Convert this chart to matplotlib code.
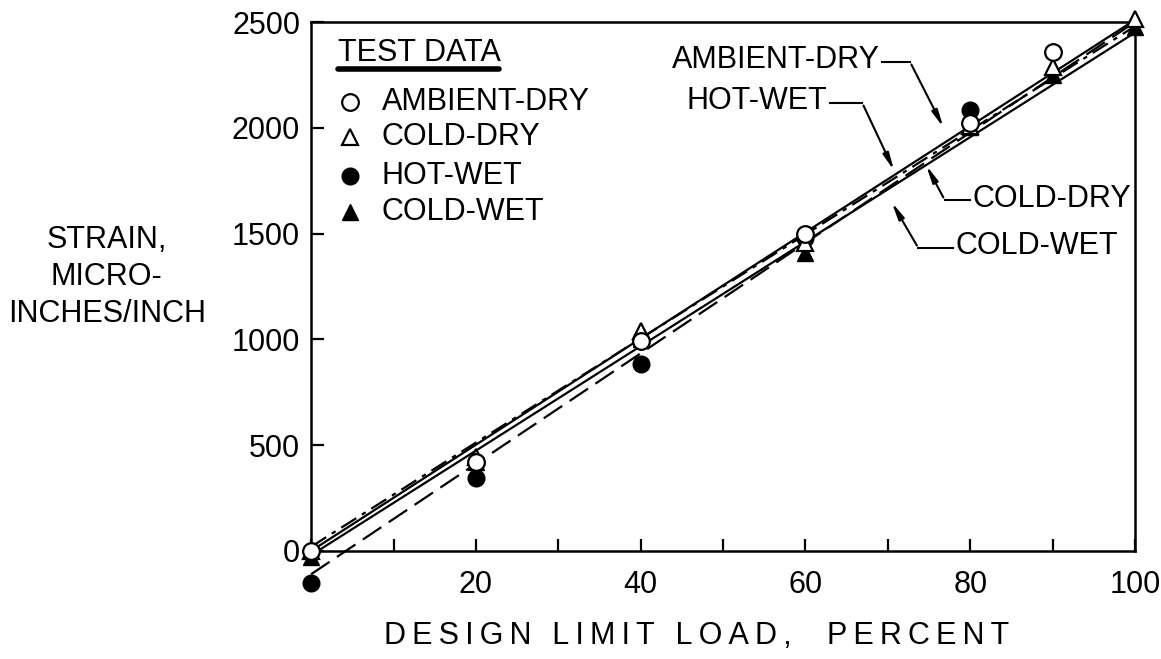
import matplotlib
matplotlib.use("Agg")
import matplotlib.pyplot as plt

FONT = ['Liberation Sans Narrow', 'Liberation Sans', 'DejaVu Sans']
plt.rcParams['font.family'] = FONT

# ---- data ----
amb_x = [0, 20, 40, 60, 80, 90]
amb_y = [0, 420, 990, 1500, 2023, 2358]
cd_x = [0, 20, 40, 60, 80, 90, 100]
cd_y = [0, 445, 1040, 1455, 2010, 2287, 2516]
hw_x = [0, 20, 40, 60, 80]
hw_y = [-150, 345, 885, 1480, 2084]
cw_x = [0, 20, 40, 60, 80, 90, 100]
cw_y = [-30, 420, 1000, 1410, 2004, 2250, 2476]

fit_x = [0, 100]
fit_amb = [0, 2510]
fit_cd = [20, 2480]
fit_hw = [-110, 2500]
fit_cw = [-20, 2450]

x_ticks = [0, 20, 40, 60, 80, 100]
x_tick_labels = ['', '20', '40', '60', '80', '100']
x_minor = [10, 30, 50, 70, 90]
y_ticks = [0, 500, 1000, 1500, 2000, 2500]

fig = plt.figure(figsize=(11.61, 6.59), dpi=100)
ax = fig.add_axes([0.268, 0.164, 0.7096, 0.8026])
ax.set_xlim(0, 100)
ax.set_ylim(0, 2500)

lw = 1.6
ax.plot(fit_x, fit_amb, color='black', lw=lw, ls='-', clip_on=False)
ax.plot(fit_x, fit_cd, color='black', lw=lw, ls=(0, (8, 3, 2, 3)), clip_on=False)
ax.plot(fit_x, fit_hw, color='black', lw=lw, ls=(0, (10, 4)), clip_on=False)
ax.plot(fit_x, fit_cw, color='black', lw=lw, ls='-', clip_on=False)

ms = 12
ax.plot(cw_x, cw_y, ls='none', marker='^', ms=ms, mfc='black', mec='black', clip_on=False, zorder=5)
ax.plot(hw_x, hw_y, ls='none', marker='o', ms=ms, mfc='black', mec='black', clip_on=False, zorder=5)
ax.plot(cd_x, cd_y, ls='none', marker='^', ms=ms, mfc='white', mec='black', mew=1.6, clip_on=False, zorder=6)
ax.plot(amb_x, amb_y, ls='none', marker='o', ms=ms, mfc='white', mec='black', mew=1.6, clip_on=False, zorder=7)

for s in ax.spines.values():
    s.set_linewidth(1.8)

ax.set_xticks(x_ticks)
ax.set_xticklabels(x_tick_labels)
ax.set_xticks(x_minor, minor=True)
ax.set_yticks(y_ticks)
ax.tick_params(axis='both', which='both', direction='in', length=9, width=1.6, labelsize=22)
ax.tick_params(axis='x', which='both', pad=14)
ax.tick_params(axis='y', pad=8)

# legend
lx_m, lx_t = 4.7, 8.6
ax.text(3.3, 2355, 'TEST DATA', fontsize=22, va='center', ha='left')
ax.plot([3.3, 22.8], [2280, 2280], color='black', lw=4, solid_capstyle='round')
rows = [2120, 1955, 1770, 1600]
names = ['AMBIENT-DRY', 'COLD-DRY', 'HOT-WET', 'COLD-WET']
styles = [dict(marker='o', mfc='white', mew=1.6), dict(marker='^', mfc='white', mew=1.6),
          dict(marker='o', mfc='black'), dict(marker='^', mfc='black')]
for r, n, st in zip(rows, names, styles):
    ax.plot([lx_m], [r], ls='none', ms=ms, mec='black', **st)
    ax.text(lx_t, r, n, fontsize=22, va='center', ha='left')

# annotations
def label(text, tx, ty, path):
    ax.text(tx, ty, text, fontsize=22, va='center', ha='right' if path[0][0] >= tx else 'left')
    xs = [p[0] for p in path]
    ys = [p[1] for p in path]
    ax.plot(xs[:-1], ys[:-1], color='black', lw=1.5)
    ax.annotate('', xy=path[-1], xytext=path[-2],
                arrowprops=dict(arrowstyle='-|>,head_length=1.0,head_width=0.18', color='black', lw=1.5))

label('AMBIENT-DRY', 69.0, 2320, [(69.3, 2311), (72.7, 2311), (76.9, 1990)])
label('HOT-WET', 62.6, 2125, [(63.0, 2117), (66.9, 2117), (70.9, 1786)])
label('COLD-DRY', 80.3, 1665, [(80.0, 1659), (76.9, 1659), (74.5, 1834)])
label('COLD-WET', 78.2, 1440, [(77.9, 1432), (73.7, 1432), (70.3, 1659)])

THIN = '\u2009'
xlabel = 'DESIGN LIMIT LOAD,  PERCENT'
spaced = THIN.join(xlabel)
fig.text(0.60, 0.035, spaced, fontsize=22, ha='center', va='center')
fig.text(0.092, 0.58, 'STRAIN,\nMICRO-\nINCHES/INCH', fontsize=22, ha='center', va='center',
         linespacing=1.3)

fig.savefig('out.png', dpi=100)
